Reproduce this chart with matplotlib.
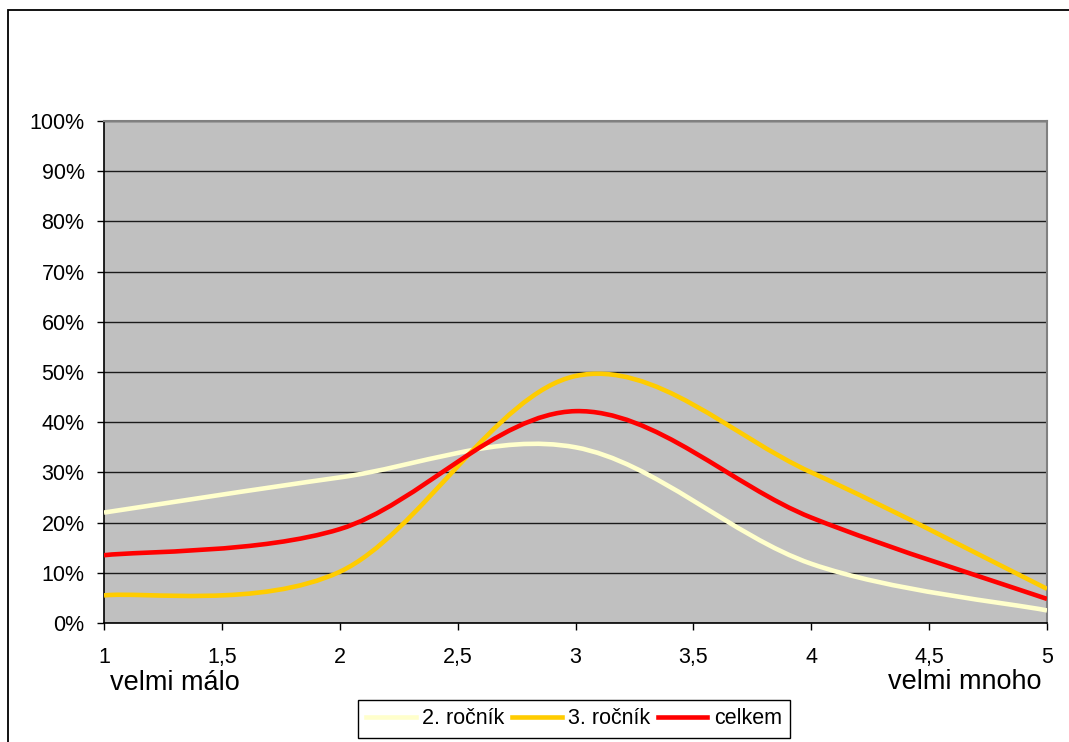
import matplotlib
matplotlib.use("Agg")
import matplotlib.pyplot as plt
from matplotlib.path import Path
from matplotlib.patches import PathPatch, Rectangle
from matplotlib.lines import Line2D
from matplotlib.ticker import FuncFormatter, MultipleLocator

plt.rcParams['font.family'] = ['Liberation Sans', 'DejaVu Sans']

x_values = [1, 2, 3, 4, 5]
rocnik2 = [22.0, 29.0, 35.0, 11.8, 2.5]
rocnik3 = [5.5, 10.2, 49.2, 30.0, 6.8]
celkem = [13.5, 18.7, 42.2, 21.0, 4.8]
series_names = ["2. ročník", "3. ročník", "celkem"]
series_colors = ["#FFFFCC", "#FFCC00", "#FF0000"]
label_low = "velmi málo"
label_high = "velmi mnoho"


def smooth_path(xs, ys):
    """Excel-style smoothed line as cubic Bezier path through the data points."""
    n = len(xs)
    verts = [(xs[0], ys[0])]
    codes = [Path.MOVETO]
    for i in range(n - 1):
        p0 = (xs[i - 1], ys[i - 1]) if i > 0 else (xs[i], ys[i])
        p1 = (xs[i], ys[i])
        p2 = (xs[i + 1], ys[i + 1])
        p3 = (xs[i + 2], ys[i + 2]) if i + 2 < n else (xs[i + 1], ys[i + 1])
        c1 = (p1[0] + (p2[0] - p0[0]) / 6, p1[1] + (p2[1] - p0[1]) / 6)
        c2 = (p2[0] - (p3[0] - p1[0]) / 6, p2[1] - (p3[1] - p1[1]) / 6)
        verts += [c1, c2, p2]
        codes += [Path.CURVE4] * 3
    return Path(verts, codes)


fig = plt.figure(figsize=(10.69, 7.42), dpi=100)
fig.patch.set_facecolor("white")
ax = fig.add_axes([104 / 1069, 1 - 623 / 742, 943 / 1069, 502 / 742])
ax.set_facecolor("#C0C0C0")

ax.set_xlim(1, 5)
ax.set_ylim(0, 100)
ax.xaxis.set_major_locator(MultipleLocator(0.5))
ax.yaxis.set_major_locator(MultipleLocator(10))
ax.xaxis.set_major_formatter(FuncFormatter(lambda v, p: (f"{v:g}").replace(".", ",")))
ax.yaxis.set_major_formatter(FuncFormatter(lambda v, p: f"{v:.0f}%"))
ax.tick_params(axis="both", direction="out", length=5, width=1, color="black",
               labelsize=15.5, labelcolor="black")
ax.tick_params(axis="x", pad=12)
ax.tick_params(axis="y", pad=9)

ax.grid(axis="y", color="#1a1a1a", linewidth=1)
ax.set_axisbelow(True)
for side in ["top", "right"]:
    ax.spines[side].set_color("#808080")
    ax.spines[side].set_linewidth(1.5)
for side in ["left", "bottom"]:
    ax.spines[side].set_color("black")
    ax.spines[side].set_linewidth(1.2)

handles = []
for ys, name, col in zip([rocnik2, rocnik3, celkem], series_names, series_colors):
    patch = PathPatch(smooth_path(x_values, ys), facecolor="none", edgecolor=col,
                      linewidth=3.3, capstyle="butt", joinstyle="round",
                      transform=ax.transData, zorder=3)
    ax.add_patch(patch)
    handles.append(Line2D([], [], color=col, linewidth=3.3, label=name))

fig.text(110 / 1069, 1 - 683 / 742, label_low, fontsize=19.5, ha="left", va="center")
fig.text(1041 / 1069, 1 - 682 / 742, label_high, fontsize=19.5, ha="right", va="center")

leg = fig.legend(handles=handles, loc="center", bbox_to_anchor=(574 / 1069, 1 - 719 / 742),
                 ncol=3, fontsize=15.5, frameon=True, fancybox=False, framealpha=1,
                 edgecolor="black", handlelength=2.3, handletextpad=0.3,
                 columnspacing=0.35, borderpad=0.4, borderaxespad=0)
leg.get_frame().set_linewidth(1)

fig.patches.append(Rectangle((8 / 1069, -0.05), 1.1, 1.05 - 10 / 742, transform=fig.transFigure,
                             fill=False, edgecolor="black", linewidth=1.3))

fig.savefig("out.png", dpi=100)
